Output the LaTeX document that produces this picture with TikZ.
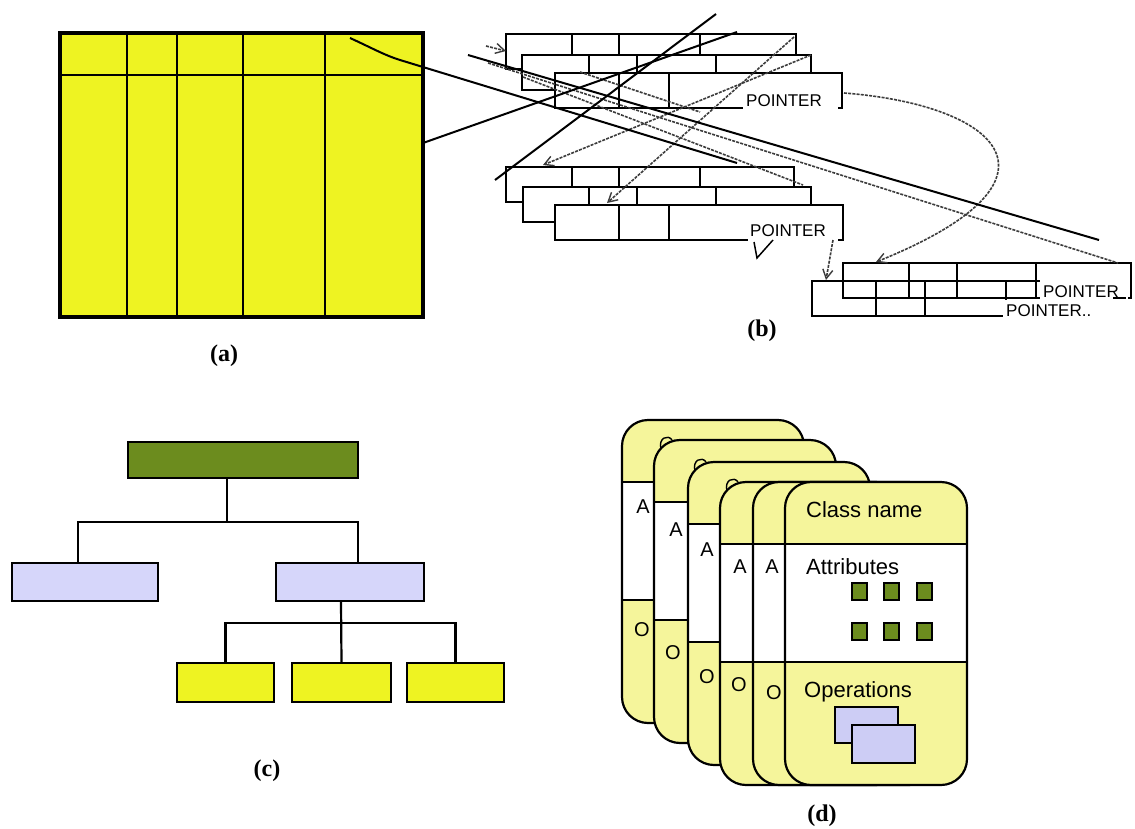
\documentclass[tikz,border=0pt]{standalone}
\usepackage{fontspec}
\setmainfont{Liberation Serif}
\setsansfont{Liberation Sans}
\usetikzlibrary{arrows.meta}
\definecolor{tabyellow}{RGB}{238,243,34}
\definecolor{olivebox}{RGB}{108,140,30}
\definecolor{lavbox}{RGB}{214,214,250}
\definecolor{cardyellow}{RGB}{245,245,155}
\definecolor{lavcard}{RGB}{205,205,245}
\definecolor{greyline}{RGB}{60,60,60}
\tikzset{
  tabline/.style={line width=2.2pt, draw=black},
  recbox/.style={line width=1.5pt, draw=black, fill=white},
  leader/.style={line width=2pt, draw=black},
  ptr/.style={line width=1.6pt, draw=greyline, dash pattern=on 3pt off 1.2pt},
  ptrarrow/.style={ptr, -{Straight Barb[length=9pt,width=10pt,line width=1.4pt]}},
  ptrlabel/.style={font=\fontsize{17}{17}\selectfont\sffamily, anchor=base west, inner sep=0pt},
  treebox/.style={draw=black, line width=2.2pt, inner sep=0pt},
  treeline/.style={line width=2.2pt, draw=black},
  cardline/.style={line width=2.2pt, draw=black},
  cardtext/.style={font=\fontsize{22}{22}\selectfont\sffamily, anchor=base west, inner sep=0pt},
  aotext/.style={font=\fontsize{20}{20}\selectfont\sffamily, inner sep=0pt},
  caption/.style={font=\fontsize{24}{24}\selectfont\bfseries, inner sep=0pt},
}
\newcommand{\drawcard}[2]{%
  \fill[cardyellow, rounded corners=26pt] (#1,#2) rectangle ++(182,303);
  \fill[white] (#1,#2+62) rectangle ++(182,118);
  \draw[cardline] (#1,#2+62) -- ++(182,0) (#1,#2+180) -- ++(182,0);
  \draw[cardline, rounded corners=26pt] (#1,#2) rectangle ++(182,303);
}
\newcommand{\drawcurl}[2]{%
  \draw[line width=1.4pt] (#1+5,#2+9) .. controls (#1+2,#2-2) and (#1+12,#2-6) .. (#1+16,#2);
}
\begin{document}
\begin{tikzpicture}[x=1pt,y=-1pt]
\useasboundingbox (0,0) rectangle (1135,828);
\fill[white] (0,0) rectangle (1135,828);

% ---------------- (a) table ----------------
\fill[tabyellow] (60,33) rectangle (423,317);
\draw[tabline] (60,75) -- (423,75);
\foreach \cx in {127,177,243,325} \draw[tabline] (\cx,33) -- (\cx,317);
\draw[line width=3.2pt] (60,33) rectangle (423,317);
\node[caption] (capa) at (224,356) {(a)};

% ---------------- (b) linked records ----------------
% top group
\draw[recbox] (506,34) rectangle (796,69);
\foreach \cx in {572,619,700} \draw[line width=1.5pt] (\cx,34) -- (\cx,69);
\draw[recbox] (522,55) rectangle (811,90);
\foreach \cx in {589,637,716} \draw[line width=1.5pt] (\cx,55) -- (\cx,90);
\draw[recbox] (555,73) rectangle (842,108);
\foreach \cx in {619,669} \draw[line width=1.5pt] (\cx,73) -- (\cx,108);
% middle group
\draw[recbox] (506,167) rectangle (794,202);
\foreach \cx in {572,619,700} \draw[line width=1.5pt] (\cx,167) -- (\cx,202);
\draw[recbox] (523,187) rectangle (811,222);
\foreach \cx in {589,637,716} \draw[line width=1.5pt] (\cx,187) -- (\cx,222);
\draw[recbox] (555,205) rectangle (843,240);
\foreach \cx in {619,669} \draw[line width=1.5pt] (\cx,205) -- (\cx,240);
% bottom group
\draw[line width=1.5pt] (812,281) rectangle (1100,316);
\foreach \cx in {876,925,1006} \draw[line width=1.5pt] (\cx,281) -- (\cx,316);
\draw[line width=1.5pt] (843,263) rectangle (1131,298);
\foreach \cx in {909,957,1036} \draw[line width=1.5pt] (\cx,263) -- (\cx,298);

% pointer labels
\fill[white] (743,87) rectangle (838,110);
\node[ptrlabel] (p1) at (746,106) {POINTER};
\fill[white] (748,217) rectangle (838,241);
\node[ptrlabel] (p2) at (750,236) {POINTER};
\fill[white] (1040,280) rectangle (1128,299.5);
\node[ptrlabel] (p3) at (1043,297) {POINTER};
\fill[white] (1003,299.5) rectangle (1106,320);
\node[ptrlabel] (p4) at (1006,316) {POINTER..};
\draw[line width=1.5pt] (1113,298) -- (1126,298);

% pointer end points
\coordinate (t3ptr) at (844,93);
\coordinate (b1in) at (876,262);
\coordinate (t1ptr) at (794,37);
\coordinate (m2in) at (607,203);
\coordinate (t2ptr) at (811,55);
\coordinate (m1in) at (543,165);
\coordinate (tl1) at (488,63);
\coordinate (b1end) at (1118,263);
\coordinate (tl2) at (523,77);
\coordinate (m2end) at (803,185);
\coordinate (m3ptr) at (833,240);
\coordinate (b2in) at (826,280);
\coordinate (tin0) at (486,46);
\coordinate (tin1) at (506,51);
\coordinate (t3a) at (580,72);
\coordinate (t3b) at (700,112);

\draw[ptrarrow] (t3ptr) .. controls (1000,105) and (1080,180) .. (b1in);
\draw[ptrarrow] (t1ptr) -- (m2in);
\draw[ptrarrow] (t2ptr) -- (m1in);
\draw[ptr] (tl1) -- (b1end);
\draw[ptr] (tl2) -- (m2end);
\draw[ptrarrow] (m3ptr) -- (b2in);
\draw[ptrarrow] (tin0) -- (tin1);
\draw[ptr] (t3a) -- (t3b);
% small V under middle pointer
\coordinate (v1) at (754,242);
\coordinate (v2) at (757,258);
\coordinate (v3) at (773,240);
\draw[line width=1.5pt] (v1) -- (v2) -- (v3);

% leader lines from (a)
\coordinate (la1) at (350,38);
\coordinate (la2) at (737,163);
\coordinate (lb1) at (423,143);
\coordinate (lb2) at (737,32);
\coordinate (lc1) at (716,14);
\coordinate (lc2) at (495,180);
\coordinate (ld1) at (468,55);
\coordinate (ld2) at (1099,240);
\draw[leader] (la1) .. controls (372,48) and (384,55) .. (400,60) -- (la2);
\draw[leader] (lb1) -- (lb2);
\draw[leader] (lc1) -- (lc2);
\draw[leader] (ld1) -- (ld2);

\node[caption] (capb) at (762,331) {(b)};

% ---------------- (c) tree ----------------
\node[treebox, fill=olivebox, minimum width=230pt, minimum height=36pt] (root) at (243,460) {};
\node[treebox, fill=lavbox, minimum width=146pt, minimum height=38pt] (lc) at (85,582) {};
\node[treebox, fill=lavbox, minimum width=148pt, minimum height=38pt] (rc) at (350,582) {};
\node[treebox, fill=tabyellow, minimum width=97pt, minimum height=39pt] (g1) at (225.5,682.5) {};
\node[treebox, fill=tabyellow, minimum width=99pt, minimum height=39pt] (g2) at (341.5,682.5) {};
\node[treebox, fill=tabyellow, minimum width=97pt, minimum height=39pt] (g3) at (455.5,682.5) {};
\coordinate (j1) at (227,522);
\coordinate (j2) at (341,623);
\draw[treeline] ([xshift=-16pt]root.south) -- (j1);
\draw[treeline] ([xshift=-7pt]lc.north) -- ([xshift=-7pt]lc.north |- j1) -- ([xshift=8pt]rc.north |- j1) -- ([xshift=8pt]rc.north);
\draw[treeline] ([xshift=-9pt]rc.south) -- (g2.north);
\draw[treeline] (g1.north) -- (g1.north |- j2) -- (g3.north |- j2) -- (g3.north);
\node[caption] (capc) at (267,771) {(c)};

% ---------------- (d) class cards ----------------
\drawcard{622}{420}
\node[aotext] (a1) at (643,507) {A};
\node[aotext] (o1) at (642,630) {O};
\drawcard{654}{440}
\drawcurl{656}{440}
\node[aotext] (a2) at (676,530) {A};
\node[aotext] (o2) at (673,653) {O};
\drawcard{688}{462}
\drawcurl{690}{462}
\node[aotext] (a3) at (707,550) {A};
\node[aotext] (o3) at (707,677) {O};
\drawcard{720}{482}
\drawcurl{722}{482}
\node[aotext] (a4) at (740,567) {A};
\node[aotext] (o4) at (739,685) {O};
\drawcard{753}{482}
\node[aotext] (a5) at (772,567) {A};
\node[aotext] (o5) at (774,693) {O};
\drawcard{785}{482}
\node[cardtext] (cn) at (806,517) {Class name};
\node[cardtext] (at) at (806,574) {Attributes};
\node[cardtext] (op) at (804,697) {Operations};
\foreach \sx/\sy in {852/583,884/583,917/583,852/623,884/623,917/623}
  \draw[fill=olivebox, line width=1.5pt] (\sx,\sy) rectangle ++(15,17);
\draw[fill=lavcard, line width=1.5pt] (835,707) rectangle (898,743);
\draw[fill=lavcard, line width=1.5pt] (852,725) rectangle (915,763);
\node[caption] (capd) at (822,816) {(d)};
\end{tikzpicture}
\end{document}
